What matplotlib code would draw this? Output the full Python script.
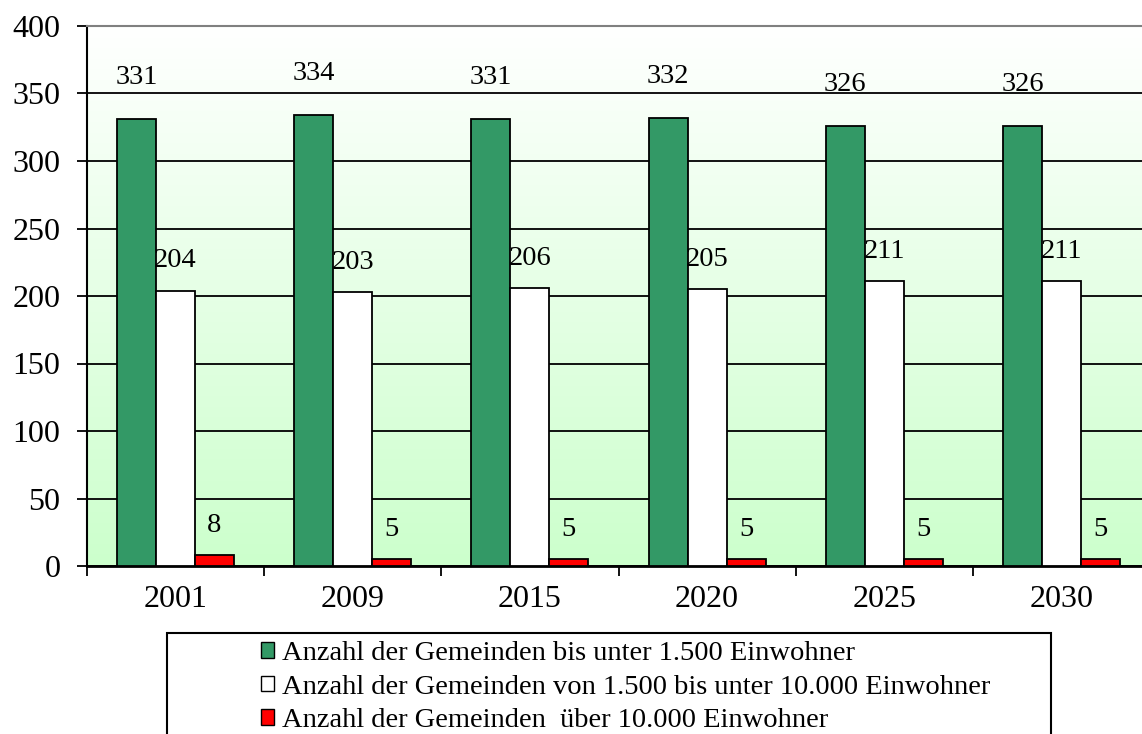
import matplotlib

matplotlib.use("Agg")
import matplotlib.pyplot as plt
import numpy as np
from matplotlib.patches import Patch, Rectangle

plt.rcParams["font.family"] = ["Liberation Serif", "DejaVu Serif"]

years = ["2001", "2009", "2015", "2020", "2025", "2030"]
small = [331, 334, 331, 332, 326, 326]
medium = [204, 203, 206, 205, 211, 211]
large = [8, 5, 5, 5, 5, 5]
series_labels = [
    "Anzahl der Gemeinden bis unter 1.500 Einwohner",
    "Anzahl der Gemeinden von 1.500 bis unter 10.000 Einwohner",
    "Anzahl der Gemeinden  über 10.000 Einwohner",
]
colors = ["#339966", "#ffffff", "#ff0000"]
label_offsets = [30, 21.5, 21.5]  # points above bar top

fig = plt.figure(figsize=(11.42, 7.34), dpi=100)
ax = fig.add_axes([87 / 1142, 1 - 566 / 734, 1063 / 1142, 540 / 734])

# background gradient: white at top, light green at bottom
grad = np.linspace(0, 1, 256).reshape(-1, 1)
top = np.array([1.0, 1.0, 1.0])
bottom = np.array([0xCC, 0xFF, 0xCC]) / 255
img = top + (bottom - top) * grad[:, :, None]
ax.imshow(img, extent=[0, 6, 0, 400], origin="upper", aspect="auto", zorder=0)

x = np.arange(len(years)) + 0.5
width = 0.22
for i, (vals, col) in enumerate(zip([small, medium, large], colors)):
    xs = x + (i - 1) * width
    ax.bar(xs, vals, width=width, color=col, edgecolor="black", linewidth=1.3, zorder=3)
    for xv, v in zip(xs, vals):
        ax.annotate(
            str(v), (xv, v), xytext=(0, label_offsets[i]), textcoords="offset points",
            ha="center", va="center", fontsize=20.5, zorder=4,
        )

ax.set_xlim(0, 6)
ax.set_ylim(0, 400)
ax.set_yticks(range(0, 401, 50))
ax.yaxis.grid(True, color="black", linewidth=1.3)
ax.set_axisbelow(True)
ax.set_xticks(range(0, 7))
ax.set_xticklabels([])
ax.set_xticks(x, minor=True)
ax.set_xticklabels(years, minor=True)
ax.tick_params(axis="x", which="minor", length=0, pad=14, labelsize=23)
ax.tick_params(axis="x", which="major", length=7, width=1.3, direction="out")
ax.tick_params(axis="y", length=7, width=1.3, pad=12, labelsize=23)

ax.spines["right"].set_visible(False)
ax.spines["top"].set_color("#808080")
ax.spines["top"].set_linewidth(1.5)
ax.spines["left"].set_linewidth(1.5)
ax.spines["bottom"].set_linewidth(2)

# legend box
fig.patches.append(
    Rectangle(
        (167 / 1142, -0.05), (1051 - 167) / 1142, 0.05 + 1 - 633 / 734,
        transform=fig.transFigure, facecolor="white", edgecolor="black", linewidth=1.5,
    )
)
handles = [Patch(facecolor=c, edgecolor="black", linewidth=1) for c in colors]
fig.legend(
    handles, series_labels, loc="upper left", bbox_to_anchor=(261 / 1142, 1 - 641 / 734),
    frameon=False, fontsize=20.5, handlelength=0.45, handleheight=0.45,
    handletextpad=0.3, labelspacing=0.3, borderpad=0, borderaxespad=0,
)

fig.savefig("out.png", dpi=100)
